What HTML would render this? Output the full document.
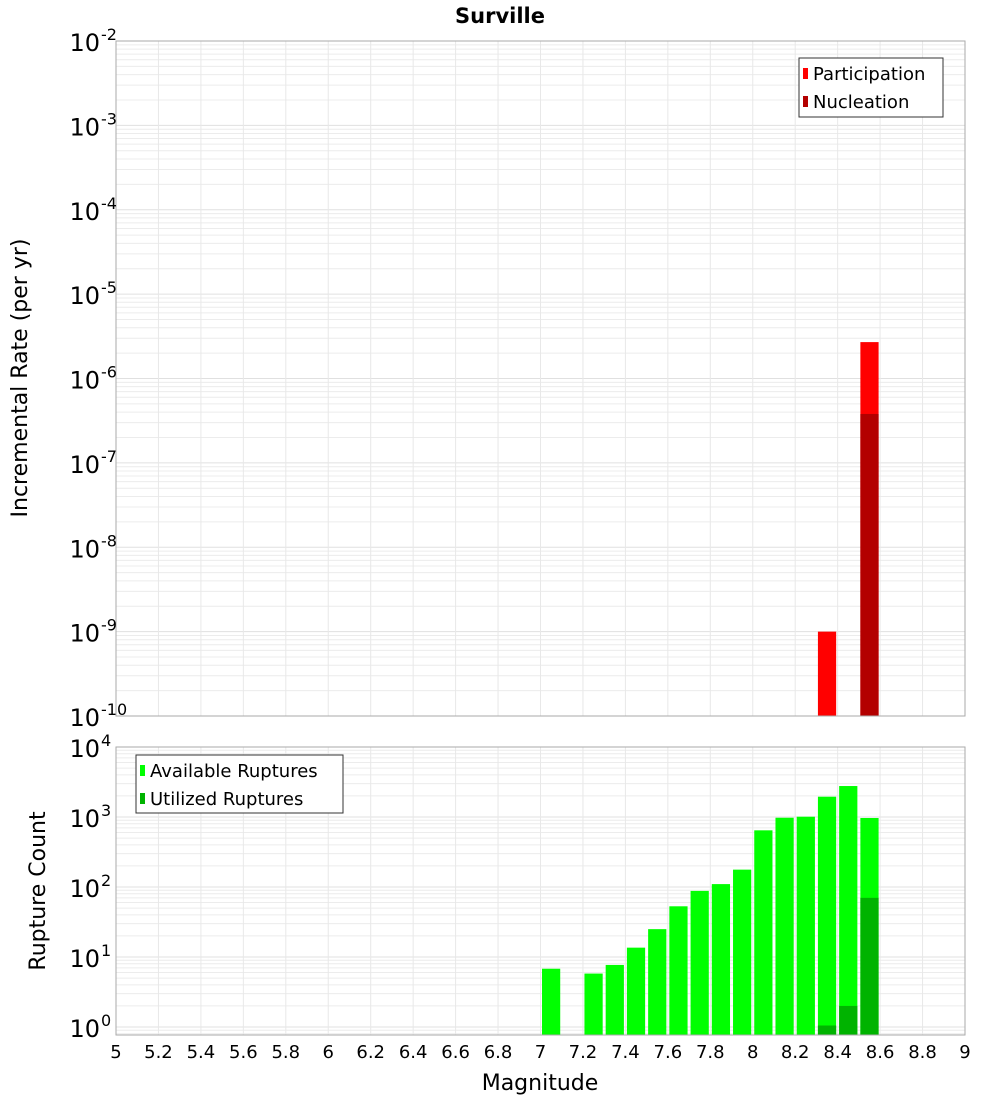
<!DOCTYPE html>
<html><head><meta charset="utf-8"><style>
body{margin:0;background:#fff}
svg{display:block;font-family:"DejaVu Sans","Liberation Sans",sans-serif}
</style></head><body>
<svg id="c" width="1000" height="1100" viewBox="0 0 1000 1100">
<text x="500" y="23" text-anchor="middle" font-size="21" font-weight="bold">Surville</text>
<g id="top"></g>
<g id="bot"></g>
<text transform="translate(27,378) rotate(-90)" text-anchor="middle" font-size="22">Incremental Rate (per yr)</text>
<text transform="translate(45,891) rotate(-90)" text-anchor="middle" font-size="22">Rupture Count</text>
<text x="540" y="1090" text-anchor="middle" font-size="22">Magnitude</text>
<g>
<rect x="799" y="58" width="144" height="59" fill="#fff" stroke="#333"/>
<rect x="803" y="68" width="5" height="11" fill="#ff0000"/>
<text x="813" y="80" font-size="18">Participation</text>
<rect x="803" y="96" width="5" height="11" fill="#b30000"/>
<text x="813" y="108" font-size="18">Nucleation</text>
</g>
<g>
<rect x="136" y="755" width="207" height="58" fill="#fff" stroke="#333"/>
<rect x="140" y="765" width="5" height="11" fill="#00ff00"/>
<text x="150" y="777" font-size="18">Available Ruptures</text>
<rect x="140" y="793" width="5" height="11" fill="#00b300"/>
<text x="150" y="805" font-size="18">Utilized Ruptures</text>
</g>
</svg>
<script>
const xTicks=[5,5.2,5.4,5.6,5.8,6,6.2,6.4,6.6,6.8,7,7.2,7.4,7.6,7.8,8,8.2,8.4,8.6,8.8,9];
const rateMags=[8.3,8.5];
const participation=[1.0e-9,2.7e-6];
const nucleation=[0,3.8e-7];
const countMags=[7.0,7.2,7.3,7.4,7.5,7.6,7.7,7.8,7.9,8.0,8.1,8.2,8.3,8.4,8.5];
const available=[6.8,5.8,7.7,13.6,25,53,88,110,177,645,976,1010,1950,2770,968];
const utilized=[0,0,0,0,0,0,0,0,0,0,0,0,1.05,2,70];
const rateExp=[-2,-3,-4,-5,-6,-7,-8,-9,-10];
const countExp=[4,3,2,1,0];

const NS="http://www.w3.org/2000/svg";
const L=116,R=965;
const xs=m=>L+(m-5)/4*(R-L);
function mk(p,t,a){const e=document.createElementNS(NS,t);for(const k in a)e.setAttribute(k,a[k]);p.appendChild(e);return e;}
function panel(g,top,bot,lmax,lmin,pxDec,yPrefix){
  const ys=v=>top+(lmax-Math.log10(v))*pxDec;
  const lo=Math.floor(lmin)-1;
  for(let d=lo;d<lmax;d++)for(let k=1;k<10;k++){const y=ys(k*Math.pow(10,d));if(y<top||y>bot)continue;
    const ln=mk(g,'line',{x1:L,x2:R,y1:y,y2:y,stroke:k==1?'#e0e0e0':'#ececec','stroke-width':1});
    }
  xTicks.forEach(t=>{const x=xs(t);const ln=mk(g,'line',{x1:x,x2:x,y1:top,y2:bot,stroke:'#e8e8e8'});
    });
  return ys;
}
function bar(g,m,v,ys,bot,fill,name){
  if(!(v>0))return;const y=Math.max(ys(v),0);
  const r=mk(g,'rect',{x:xs(m)+1.5,y:y,width:xs(m+0.1)-xs(m)-3,height:bot-y,fill:fill});
  
}
function ylabels(g,exps,ys,name){
  exps.forEach(e=>{const y=ys(Math.pow(10,e));const t=mk(g,'text',{x:100,y:y+10,'text-anchor':'end','font-size':24});
    t.textContent='10';
    const s=mk(g,'text',{x:101,y:y-1,'font-size':16});s.textContent=String(e);
    });
}
// top
const gt=document.getElementById('top');
const ysT=panel(gt,41,716,-2,-10,84.375,'rate');
rateMags.forEach((m,i)=>{bar(gt,m,participation[i],ysT,716,'#ff0000','participation-bar');bar(gt,m,nucleation[i],ysT,716,'#b30000','nucleation-bar');});
mk(gt,'rect',{x:L,y:41,width:R-L,height:675,fill:'none',stroke:'#aaa'});
ylabels(gt,rateExp,ysT,'rate-y-tick');
// bottom
const gb=document.getElementById('bot');
const ysB=panel(gb,747,1035,4,-0.114,70,'count');
countMags.forEach((m,i)=>{bar(gb,m,available[i],ysB,1035,'#00ff00','available-bar');bar(gb,m,utilized[i],ysB,1035,'#00b300','utilized-bar');});
mk(gb,'rect',{x:L,y:747,width:R-L,height:288,fill:'none',stroke:'#aaa'});
ylabels(gb,countExp,ysB,'count-y-tick');
xTicks.forEach(t=>{const tx=mk(gb,'text',{x:xs(t),y:1058,'text-anchor':'middle','font-size':18});tx.textContent=String(t);
  });
</script>
</body></html>
